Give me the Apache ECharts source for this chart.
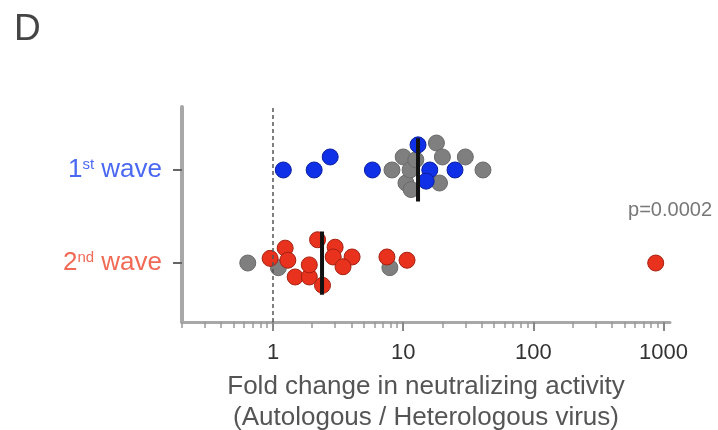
<!DOCTYPE html>
<html><head><meta charset="utf-8">
<script src="https://cdn.jsdelivr.net/npm/echarts@6/dist/echarts.min.js"></script>
<style>html,body{margin:0;padding:0;background:#fff}#c{width:718px;height:430px}</style>
</head><body><div id="c"></div>
<script>
// Fold change values [x, row position with jitter]; row 2 = 1st wave, row 1 = 2nd wave
const wave1Blue = [[1.2,2.0],[2.07,2.0],[2.75,2.14],[5.8,2.0],[13,2.27],[16,2.0],[15,1.88],[25,2.0]];
const wave1Gray = [[8.2,2.0],[10,2.14],[10.5,1.86],[11.3,2.0],[11.5,1.79],[12.5,2.11],[18,2.29],[20,2.14],[19,1.86],[30,2.14],[41,2.0]];
const wave2Red = [[0.95,1.05],[1.24,1.16],[1.3,1.03],[1.48,0.85],[1.9,0.85],[1.9,0.98],[2.2,1.25],[2.4,0.76],[3.0,1.17],[2.9,1.065],[4.05,1.065],[3.45,0.96],[7.5,1.065],[10.7,1.03],[870,1.0]];
const wave2Gray = [[0.64,1.0],[1.1,0.95],[7.9,0.95]];
const medians = [[13,2],[2.38,1]];
const xTickLabels = [1,10,100,1000];
const xMinorTicks = [0.2,0.3,0.4,0.5,0.6,0.7,0.8,0.9,2,3,4,5,6,7,8,9,20,30,40,50,60,70,80,90,200,300,400,500,600,700,800,900];

const FONT = '"Liberation Sans", Arial, sans-serif';
const chart = echarts.init(document.getElementById('c'));
const medianLines = [];
medians.forEach(m => {
  medianLines.push([m[0], m[1]-0.34]); medianLines.push([m[0], m[1]+0.34]); medianLines.push(null);
});
chart.setOption({
  animation:false,
  textStyle:{fontFamily:FONT},
  title:{text:'D', left:9, top:6, textStyle:{fontSize:37, fontWeight:'normal', color:'#444', fontFamily:FONT}},
  grid:{left:182, right:48, top:107, bottom:108, outerBoundsMode:'none', containLabel:false},
  xAxis:[{
    type:'log', min:0.2, max:1120, logBase:10,
    axisLine:{lineStyle:{color:'#a8a8a8', width:3}},
    axisTick:{show:true, customValues:xTickLabels, length:9, lineStyle:{color:'#888', width:2}},
    axisLabel:{customValues:xTickLabels, fontSize:22, color:'#333', margin:20, fontFamily:FONT,
      formatter:v=>String(Math.round(v))},
    splitLine:{show:false}, minorTick:{show:false},
    name:'Fold change in neutralizing activity\n(Autologous / Heterologous virus)',
    nameLocation:'middle', nameGap:49,
    nameTextStyle:{fontSize:26, color:'#555', lineHeight:31, fontFamily:FONT}
  },{
    type:'log', min:0.2, max:1120, logBase:10, position:'bottom', gridIndex:0,
    axisLine:{show:false},
    axisTick:{show:true, customValues:xMinorTicks, length:6, lineStyle:{color:'#999', width:1.5}},
    axisLabel:{show:false}, splitLine:{show:false}
  }],
  yAxis:{
    type:'value', min:0.366, max:2.677,
    axisLine:{show:true, lineStyle:{color:'#a8a8a8', width:4}},
    axisTick:{show:true, customValues:[1,2], length:9, lineStyle:{color:'#666', width:2}},
    axisLabel:{customValues:[1,2], margin:20, fontFamily:FONT,
      formatter:v=> v===2 ? '{b|1}{s|st}{b| wave}' : '{r|2}{rs|nd}{r| wave}',
      rich:{
        b:{fontSize:26, color:'#4a68f2', fontFamily:FONT},
        s:{fontSize:15, color:'#4a68f2', verticalAlign:'top', fontFamily:FONT},
        r:{fontSize:26, color:'#f06a56', fontFamily:FONT},
        rs:{fontSize:15, color:'#f06a56', verticalAlign:'top', fontFamily:FONT}
      }},
    splitLine:{show:false}
  },
  graphic:[{type:'text', right:6, top:200, style:{text:'p=0.0002', fontSize:20, fill:'#777', fontFamily:FONT}}],
  series:[
    {type:'scatter', data:wave1Gray.concat(wave2Gray), symbolSize:16,
     itemStyle:{color:'#7f7f7f', borderColor:'#6a6a6a', borderWidth:1, opacity:1},
     markLine:{silent:true, symbol:'none', label:{show:false},
       lineStyle:{type:[4,3], color:'#555', width:1.5},
       data:[{xAxis:1}]}, z:2},
    {type:'scatter', data:wave1Blue, symbolSize:16,
     itemStyle:{color:'#1030e8', borderColor:'#0a1ea0', borderWidth:1, opacity:1}, z:3},
    {type:'scatter', data:wave2Red, symbolSize:16,
     itemStyle:{color:'#e8321e', borderColor:'#a52010', borderWidth:1, opacity:1}, z:3},
    {type:'line', data:medianLines, showSymbol:false, symbol:'none', connectNulls:false,
     lineStyle:{color:'#111', width:4}, z:4}
  ]
});
</script></body></html>
